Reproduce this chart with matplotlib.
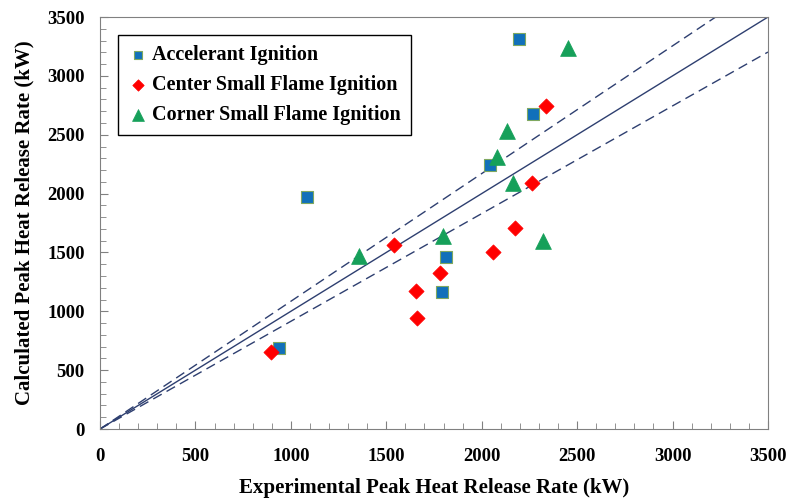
import numpy as np
import matplotlib.pyplot as plt
from matplotlib.ticker import MultipleLocator

# experimental vs calculated peak HRR (kW)
acc_exp = [938, 1083, 1790, 1813, 2043, 2197, 2270]
acc_calc = [691, 1969, 1167, 1459, 2243, 3311, 2674]

ctr_exp = [894, 1538, 1654, 1659, 1781, 2060, 2176, 2266, 2339]
ctr_calc = [652, 1563, 1175, 940, 1325, 1507, 1705, 2093, 2744]

cor_exp = [1355, 1799, 2078, 2130, 2165, 2319, 2453]
cor_calc = [1470, 1640, 2313, 2534, 2093, 1600, 3240]

ref_x = [0, 3500]
bands = [1.0, 1.085, 0.915]

plt.rcParams['font.family'] = ['Liberation Serif', 'DejaVu Serif']
plt.rcParams['font.weight'] = 'bold'

fig = plt.figure(figsize=(7.95, 5.01), dpi=100)
ax = fig.add_axes([0.1258, 0.1437, 0.966 - 0.1258, 0.966 - 0.1437])

line_col = '#2E3F70'
for k in bands:
    ax.plot(ref_x, [v * k for v in ref_x], color=line_col, lw=1.0,
            linestyle='-' if k == 1.0 else (0, (7, 4)), zorder=1)

ax.scatter(acc_exp, acc_calc, marker='s', s=70, color='#1170BA',
           edgecolors='#7FA860', linewidths=0.8, label='Accelerant Ignition', zorder=3)
ax.scatter(ctr_exp, ctr_calc, marker='D', s=60, color='#FF0000',
           edgecolors='#FF0000', linewidths=0.5, label='Center Small Flame Ignition', zorder=3)
ax.scatter(cor_exp, cor_calc, marker='^', s=130, color='#16A05A',
           edgecolors='#16A05A', linewidths=0.5, label='Corner Small Flame Ignition', zorder=3)

ax.set_xlim(0, 3500)
ax.set_ylim(0, 3500)
ax.xaxis.set_major_locator(MultipleLocator(500))
ax.yaxis.set_major_locator(MultipleLocator(500))
ax.xaxis.set_minor_locator(MultipleLocator(100))
ax.yaxis.set_minor_locator(MultipleLocator(100))
ax.tick_params(which='both', direction='in', color='#808080', labelsize=13.5)
ax.tick_params(which='major', length=6)
ax.tick_params(which='minor', length=4)
ax.tick_params(axis='x', pad=14)
ax.tick_params(axis='y', pad=11)
for s in ax.spines.values():
    s.set_color('#808080')

ax.set_xlabel('Experimental Peak Heat Release Rate (kW)', fontsize=15, fontweight='bold', labelpad=9)
ax.set_ylabel('Calculated Peak Heat Release Rate (kW)', fontsize=15, fontweight='bold', labelpad=9)

leg = ax.legend(loc='upper left', bbox_to_anchor=(0.027, 0.956), fancybox=False,
                edgecolor='black', framealpha=1, fontsize=14.5, handletextpad=0.2,
                handlelength=1.0, borderpad=0.5, labelspacing=0.5, markerscale=0.75,
                borderaxespad=0)
leg.get_frame().set_linewidth(1.0)

fig.savefig('out.png', dpi=100)
